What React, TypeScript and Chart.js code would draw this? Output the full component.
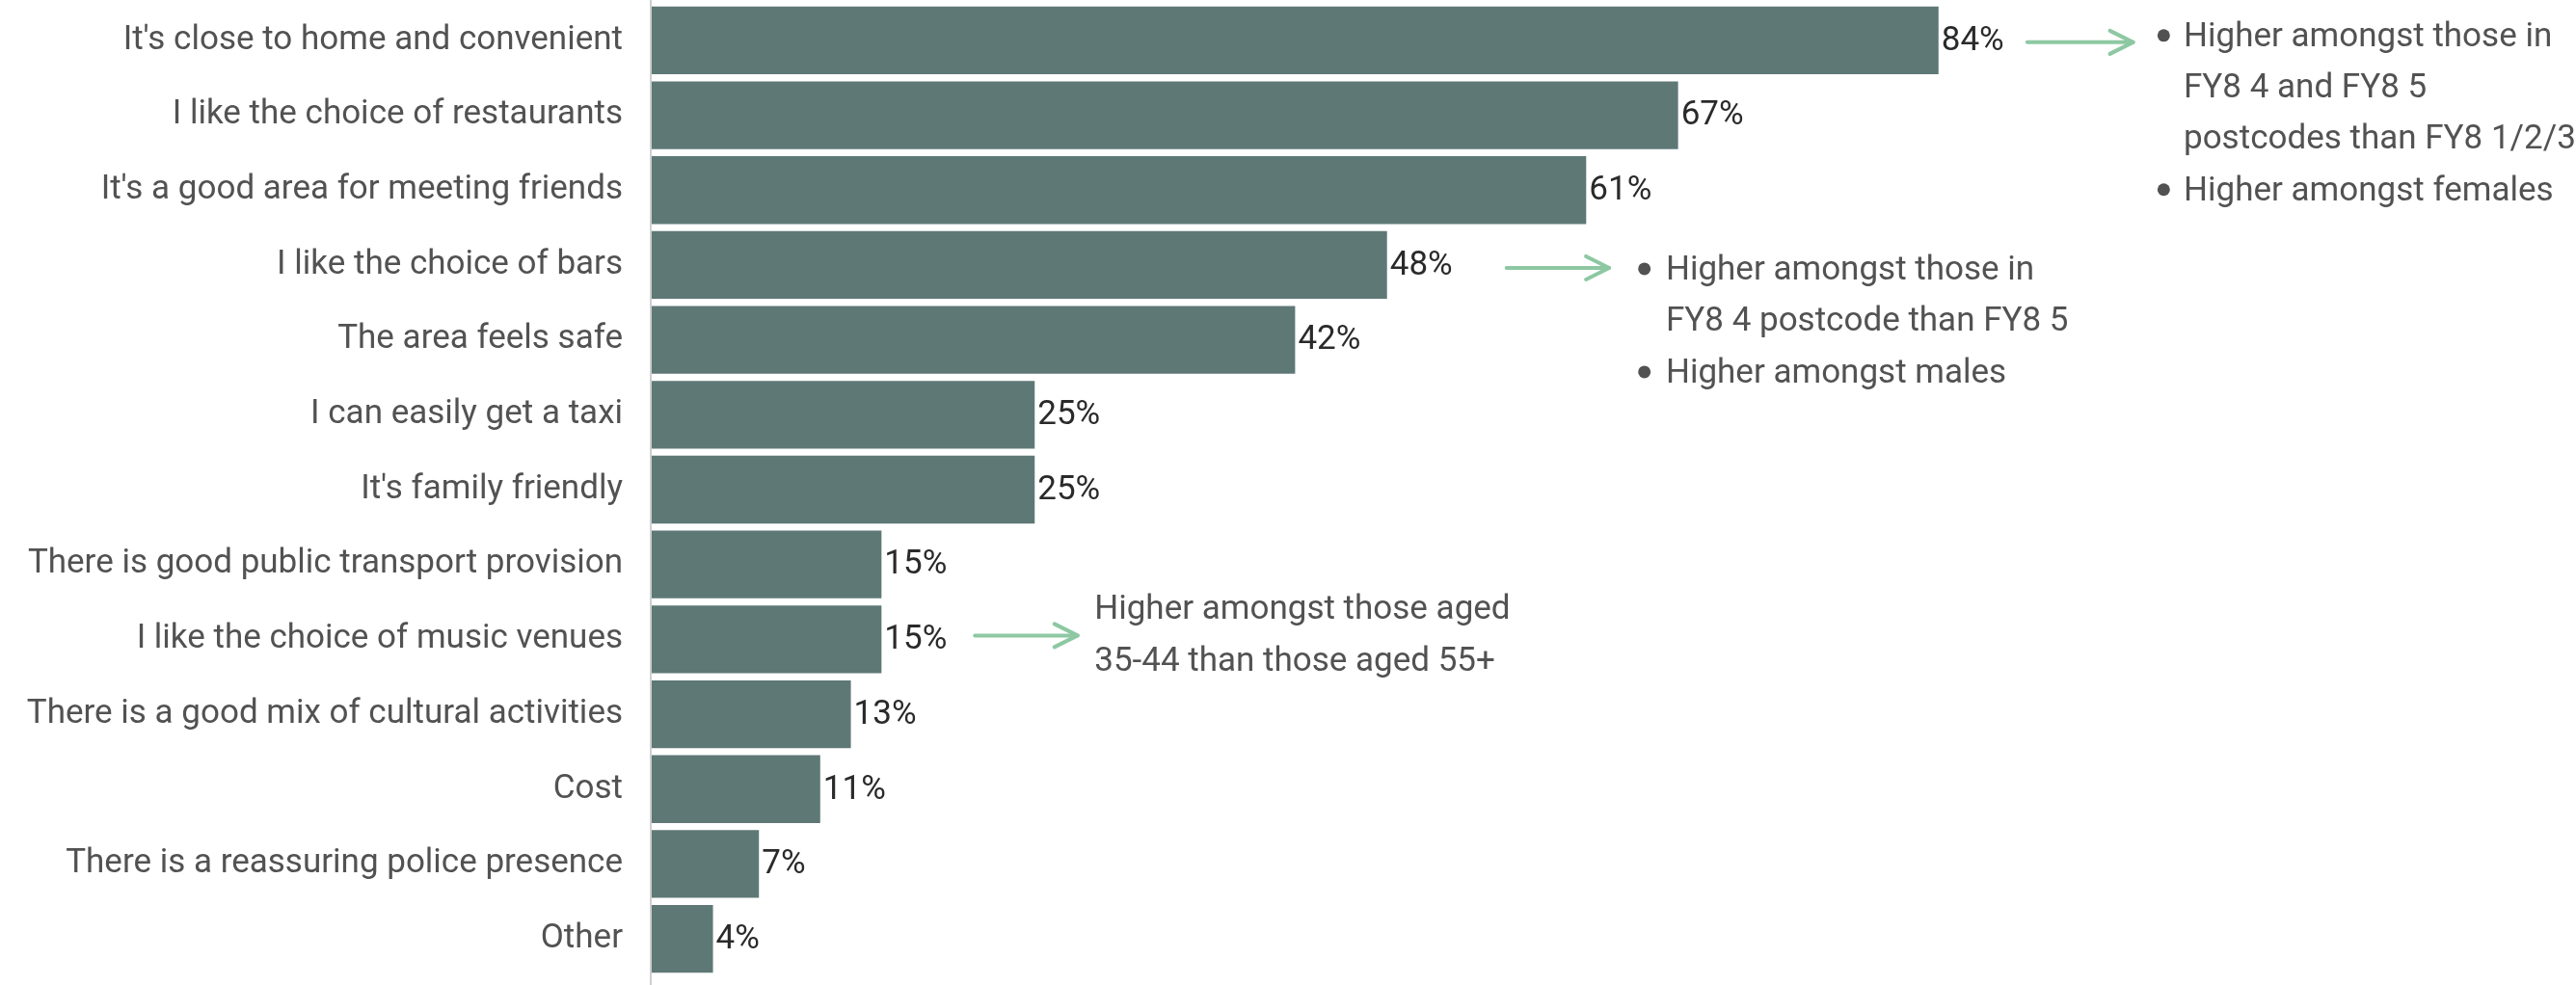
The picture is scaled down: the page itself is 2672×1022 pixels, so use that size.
import { useEffect, useRef } from "react";
import { Chart, registerables } from "chart.js";

Chart.register(...registerables);

const categories = [
  "It's close to home and convenient",
  "I like the choice of restaurants",
  "It's a good area for meeting friends",
  "I like the choice of bars",
  "The area feels safe",
  "I can easily get a taxi",
  "It's family friendly",
  "There is good public transport provision",
  "I like the choice of music venues",
  "There is a good mix of cultural activities",
  "Cost",
  "There is a reassuring police presence",
  "Other",
];

const values = [84, 67, 61, 48, 42, 25, 25, 15, 15, 13, 11, 7, 4];

const noteCloseToHome = [
  ["Higher amongst those in", "FY8 4 and FY8 5", "postcodes than FY8 1/2/3"],
  ["Higher amongst females"],
];
const noteBars = [
  ["Higher amongst those in", "FY8 4 postcode than FY8 5"],
  ["Higher amongst males"],
];
const noteMusic = [["Higher amongst those aged", "35-44 than those aged 55+"]];

const BAR_COLOR = "#5E7876";
const LABEL_COLOR = "#525252";
const VALUE_COLOR = "#2A2A2A";
const ARROW_COLOR = "#8DC8A3";
const AXIS_COLOR = "#CFCFCF";
const FONT_FAMILY = "Roboto";
const FONT_SIZE = 35;

// annotation layout (x in data units, y offsets in px from row centre)
const notes = [
  { row: 0, from: 89.8, to: 96.7, bulletAt: 98.7, textAt: 100.0, arrowDy: 2, firstDy: 6, lineGap: 53.3, bullets: true, items: noteCloseToHome },
  { row: 3, from: 55.8, to: 62.5, bulletAt: 64.8, textAt: 66.2, arrowDy: 3, firstDy: 15, lineGap: 53.5, bullets: true, items: noteBars },
  { row: 8, from: 21.1, to: 27.8, bulletAt: 0, textAt: 28.9, arrowDy: -4, firstDy: -21, lineGap: 54, bullets: false, items: noteMusic },
];

const extrasPlugin = {
  id: "extras",
  afterDatasetsDraw(chart: any) {
    const ctx = chart.ctx;
    const meta = chart.getDatasetMeta(0);
    const xs = chart.scales.x;
    const ys = chart.scales.y;
    ctx.save();
    // axis line (full height)
    ctx.strokeStyle = AXIS_COLOR;
    ctx.lineWidth = 2;
    ctx.beginPath();
    ctx.moveTo(chart.chartArea.left - 1, 0);
    ctx.lineTo(chart.chartArea.left - 1, chart.height);
    ctx.stroke();

    // value labels
    ctx.font = `${FONT_SIZE}px ${FONT_FAMILY}`;
    ctx.fillStyle = VALUE_COLOR;
    ctx.textAlign = "left";
    ctx.textBaseline = "middle";
    meta.data.forEach((bar: any, i: number) => {
      ctx.fillText(`${values[i]}%`, bar.x + 3, bar.y + 1);
    });

    // annotations
    notes.forEach((n) => {
      const yc = ys.getPixelForValue(n.row);
      const x1 = xs.getPixelForValue(n.from);
      const x2 = xs.getPixelForValue(n.to);
      const ay = yc + n.arrowDy;
      ctx.strokeStyle = ARROW_COLOR;
      ctx.lineWidth = 4;
      ctx.lineCap = "round";
      ctx.lineJoin = "round";
      ctx.beginPath();
      ctx.moveTo(x1, ay);
      ctx.lineTo(x2, ay);
      ctx.stroke();
      ctx.beginPath();
      ctx.moveTo(x2 - 24, ay - 12);
      ctx.lineTo(x2, ay);
      ctx.lineTo(x2 - 24, ay + 12);
      ctx.stroke();

      ctx.fillStyle = LABEL_COLOR;
      ctx.textBaseline = "alphabetic";
      ctx.textAlign = "left";
      const tx = xs.getPixelForValue(n.textAt);
      const bx = xs.getPixelForValue(n.bulletAt);
      let line = 0;
      n.items.forEach((item) => {
        item.forEach((t, j) => {
          const by = yc + n.firstDy + line * n.lineGap;
          if (n.bullets && j === 0) {
            ctx.beginPath();
            ctx.arc(bx, by - 11, 6.5, 0, Math.PI * 2);
            ctx.fill();
          }
          ctx.fillText(t, tx, by);
          line++;
        });
      });
    });
    ctx.restore();
  },
};

export default function App() {
  const ref = useRef<HTMLCanvasElement>(null);
  useEffect(() => {
    document.body.style.margin = "0";
    const canvas = ref.current!;
    const chart = new Chart(canvas, {
      type: "bar",
      data: {
        labels: categories,
        datasets: [
          {
            data: values,
            backgroundColor: BAR_COLOR,
            borderWidth: 0,
            barPercentage: 1,
            categoryPercentage: 0.905,
          },
        ],
      },
      options: {
        indexAxis: "y",
        responsive: false,
        animation: false,
        devicePixelRatio: 1,
        layout: { padding: { top: 3, bottom: 9, left: 0, right: 407 } },
        plugins: { legend: { display: false }, tooltip: { enabled: false } },
        scales: {
          x: { display: false, min: 0, max: 100 },
          y: {
            grid: { display: false },
            border: { display: false },
            ticks: {
              color: LABEL_COLOR,
              padding: 22,
              font: { family: FONT_FAMILY, size: FONT_SIZE },
            },
            afterFit(scale: any) {
              scale.width = 676;
              scale.paddingTop = 0;
              scale.paddingBottom = 0;
            },
          },
        },
      },
      plugins: [extrasPlugin],
    });
    return () => chart.destroy();
  }, []);
  return (
    <div style={{ width: 2672, height: 1022, background: "#fff" }}>
      <canvas ref={ref} width={2672} height={1022} style={{ display: "block" }} />
    </div>
  );
}
